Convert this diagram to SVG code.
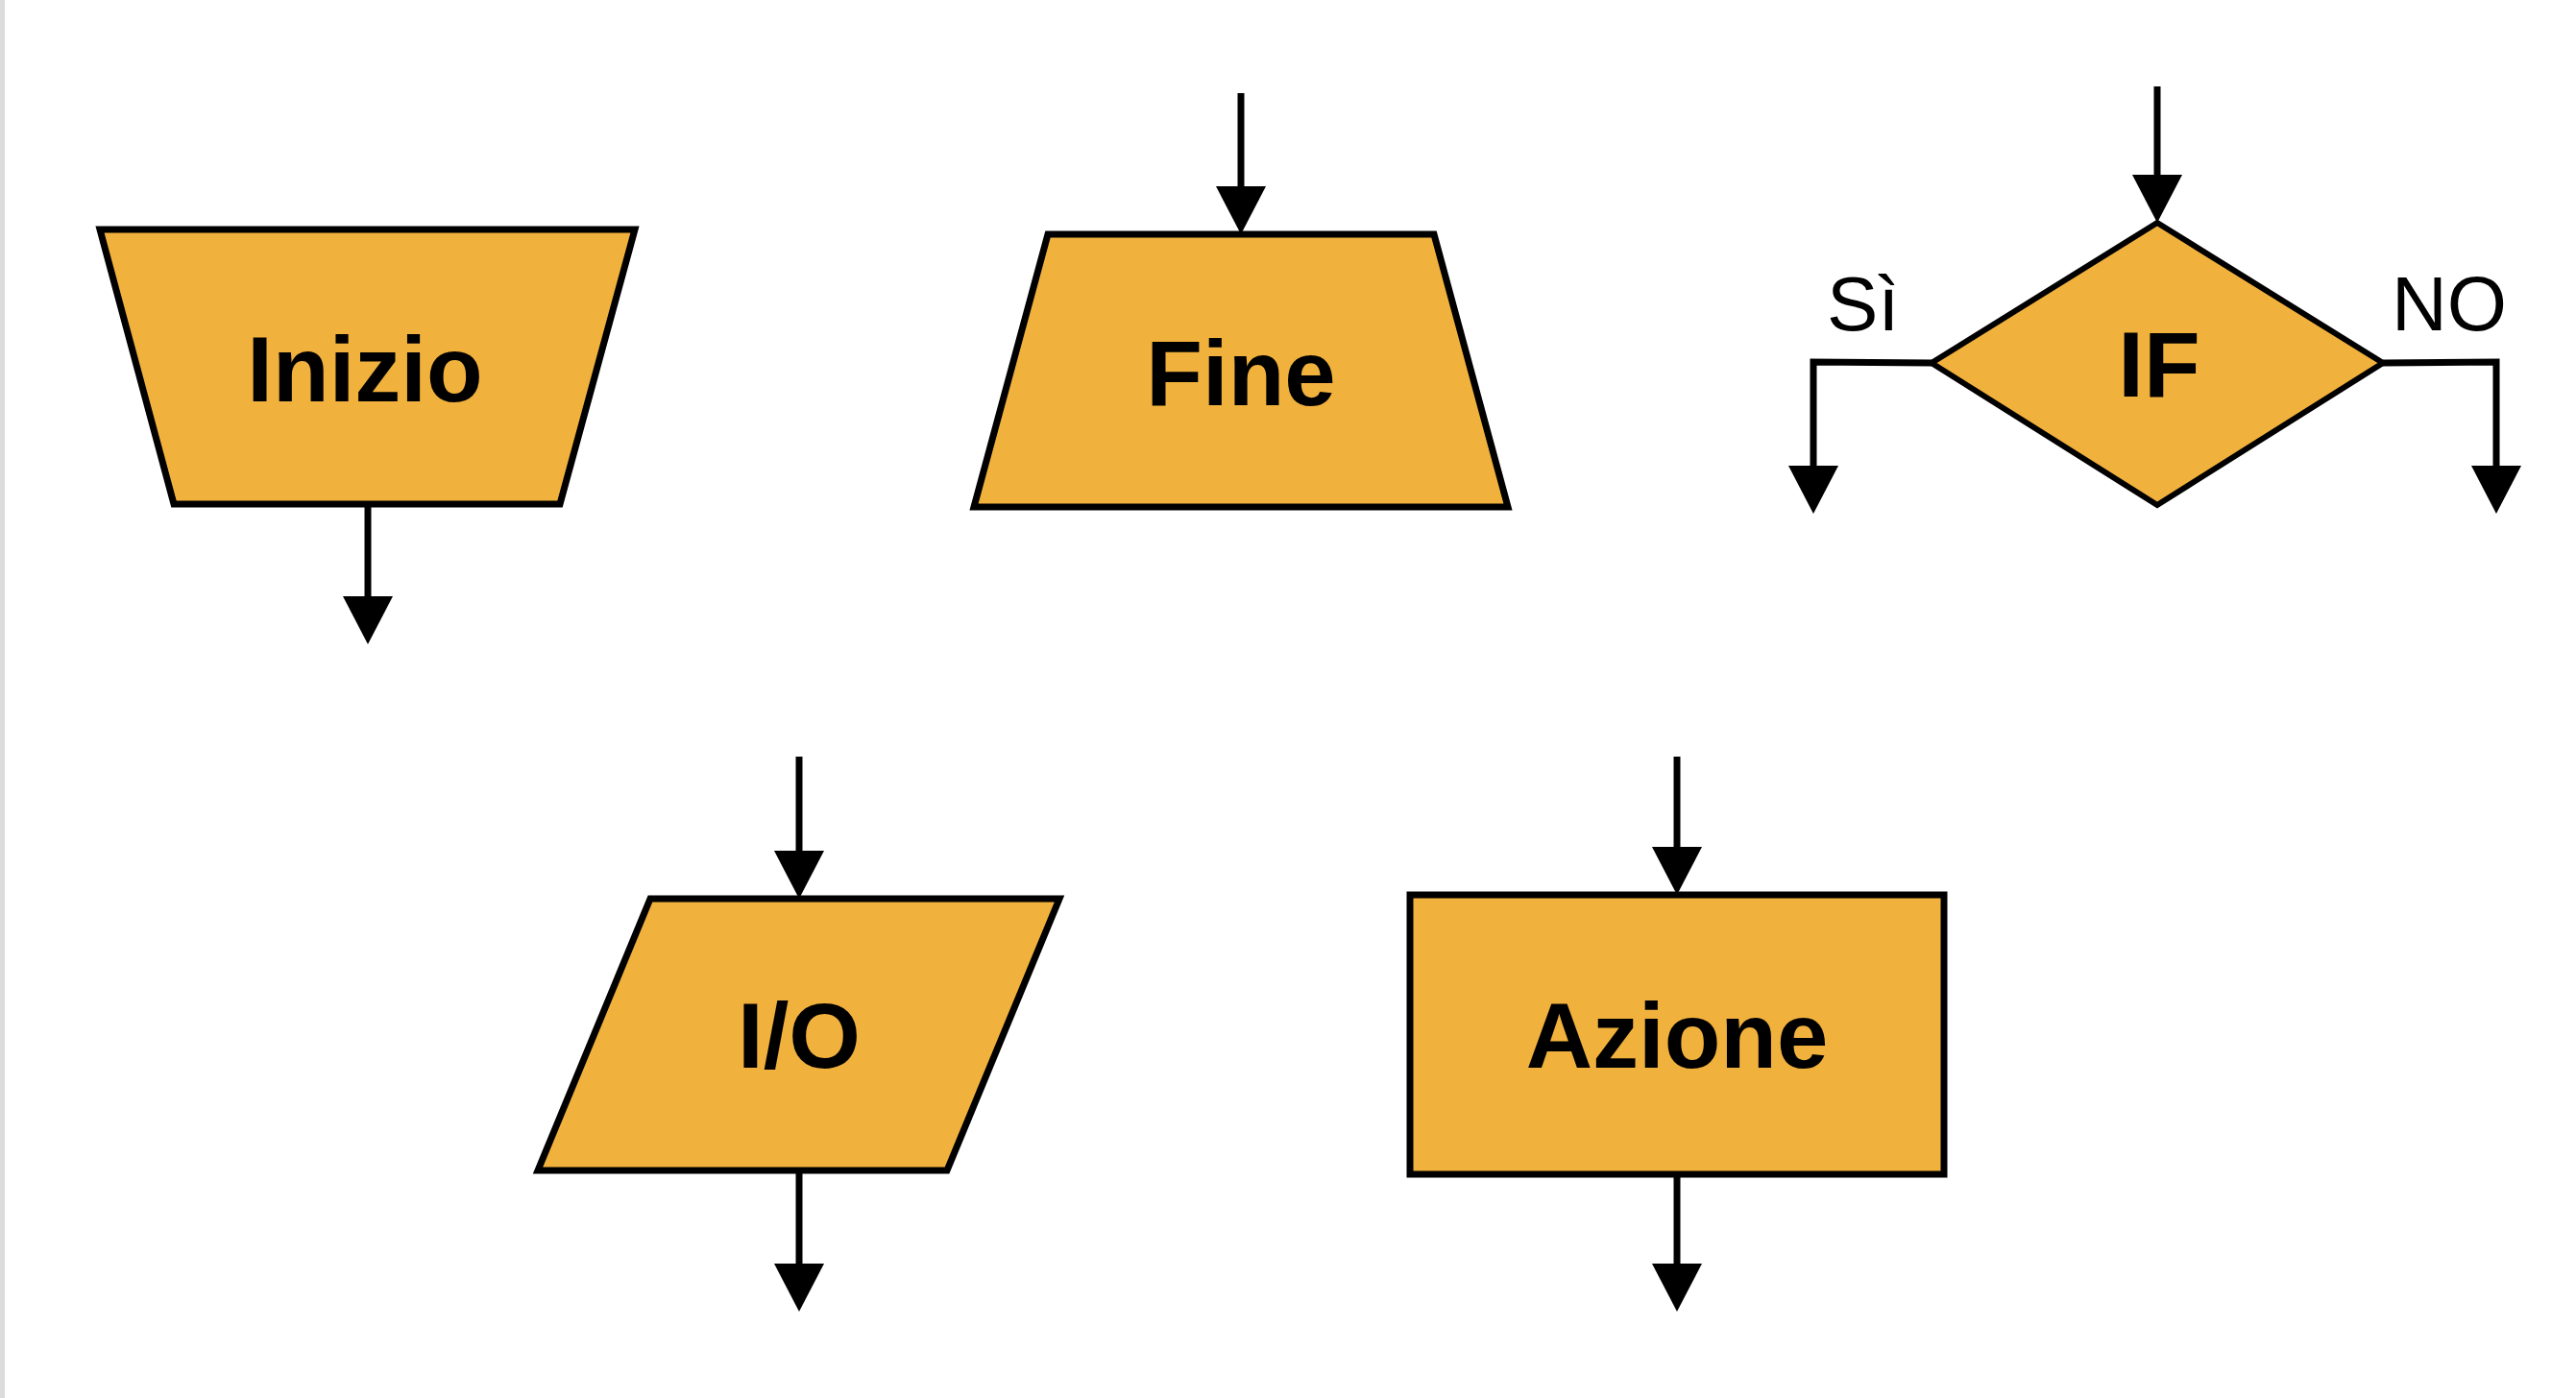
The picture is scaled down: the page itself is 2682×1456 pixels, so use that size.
<svg xmlns="http://www.w3.org/2000/svg" width="2682" height="1456" viewBox="0 0 2682 1456">
<style>
.shape{fill:#F1B13D;stroke:#000;stroke-width:7;stroke-linejoin:miter}
.lbl{font-family:"Liberation Sans",Arial,sans-serif;font-weight:bold;font-size:96px;text-anchor:middle;fill:#000}
.br{font-family:"Liberation Sans",Arial,sans-serif;font-size:80px;fill:#000}
.c{fill:none;stroke:#000;stroke-width:7;marker-end:url(#ah)}
</style>
<defs>
<marker id="ah" markerUnits="userSpaceOnUse" markerWidth="52" markerHeight="54" refX="0" refY="26" orient="auto" viewBox="0 0 52 52">
<path d="M0,0 L50,26 L0,52 z" fill="#000"/>
</marker>
</defs>
<rect x="0" y="0" width="5" height="1456" fill="#dcdcdc"/>
<g id="inizio">
<polygon class="shape" points="104,239 661,239 583,525 181,525"/>
<text class="lbl" x="380" y="418">Inizio</text>
</g>
<g id="fine">
<polygon class="shape" points="1091,244 1493,244 1570,528 1014,528"/>
<text class="lbl" x="1292" y="422">Fine</text>
</g>
<g id="if">
<polygon class="shape" style="stroke-width:6" points="2246,232 2481,378 2246,526 2011,378"/>
<text class="lbl" x="2248" y="413">IF</text>
</g>
<g id="io">
<polygon class="shape" points="677,936 1103,936 986,1219 560,1219"/>
<text class="lbl" x="832" y="1112">I/O</text>
</g>
<g id="azione">
<rect class="shape" x="1468" y="932" width="556" height="291"/>
<text class="lbl" x="1746" y="1112">Azione</text>
</g>
<g id="labels">
<text class="br" x="1902" y="344">Sì</text>
<text class="br" x="2490" y="344">NO</text>
</g>
<g id="connectors">
<path class="c" d="M383,525 V621"/>
<path class="c" d="M1292,97 V194"/>
<path class="c" d="M2246,90 V182"/>
<path class="c" d="M2011,378 L1888,377 V485"/>
<path class="c" d="M2481,378 L2599,377 V485"/>
<path class="c" d="M832,788 V886"/>
<path class="c" d="M832,1219 V1316"/>
<path class="c" d="M1746,788 V882"/>
<path class="c" d="M1746,1223 V1316"/>
</g>
</svg>
